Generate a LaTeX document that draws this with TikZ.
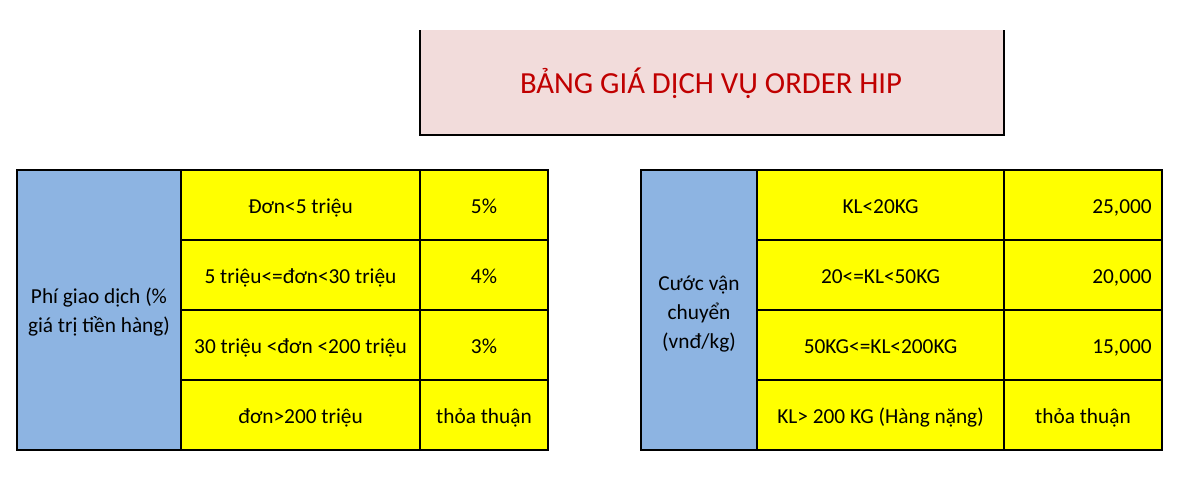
\documentclass[tikz,border=0pt]{standalone}
\usepackage{fontspec}
\setmainfont{Carlito}
\definecolor{cellblue}{HTML}{8DB4E2}
\definecolor{cellyellow}{HTML}{FFFF00}
\definecolor{titlepink}{HTML}{F2DCDB}
\definecolor{titlered}{HTML}{C00000}
\begin{document}
\begin{tikzpicture}[x=0.75pt,y=-0.75pt,
  grid/.style={line width=1.1pt},
  txt/.style={font=\fontsize{16}{21}\selectfont,inner sep=0pt,anchor=base}]
\useasboundingbox (0,0) rectangle (1198,479);
% title
\fill[titlepink] (420,30) rectangle (1004,135);
\draw[grid,line width=0.9pt] (420,30) -- (420,135) -- (1004,135) -- (1004,30);
\node[txt,text=titlered,font=\fontsize{23}{28}\selectfont] (title) at (711,93) {BẢNG GIÁ DỊCH VỤ ORDER HIP};
% left table
\fill[cellyellow] (181,170) rectangle (548,450);
\fill[cellblue] (17,170) rectangle (181,450);
\draw[grid] (17,170) rectangle (548,450);
\draw[grid] (181,170) -- (181,450) (420,170) -- (420,450);
\foreach \y in {240,310,380} \draw[grid] (181,\y) -- (548,\y);
\node[txt] (L0a) at (99,303) {Phí giao dịch (\%};
\node[txt] (L0b) at (99,332) {giá trị tiền hàng)};
\node[txt] (L1) at (300.5,213) {Đơn<5 triệu};
\node[txt] (L2) at (300.5,283) {5 triệu<=đơn<30 triệu};
\node[txt] (L3) at (300.5,353) {30 triệu <đơn <200 triệu};
\node[txt] (L4) at (300.5,423) {đơn>200 triệu};
\node[txt] (V1) at (484,213) {5\%};
\node[txt] (V2) at (484,283) {4\%};
\node[txt] (V3) at (484,353) {3\%};
\node[txt] (V4) at (484,423) {thỏa thuận};
% right table
\fill[cellyellow] (757,170) rectangle (1162,450);
\fill[cellblue] (641,170) rectangle (757,450);
\draw[grid] (641,170) rectangle (1162,450);
\draw[grid] (757,170) -- (757,450) (1004,170) -- (1004,450);
\foreach \y in {240,310,380} \draw[grid] (757,\y) -- (1162,\y);
\node[txt] (R0a) at (699,290) {Cước vận};
\node[txt] (R0b) at (699,319) {chuyển};
\node[txt] (R0c) at (699,348) {(vnđ/kg)};
\node[txt] (R1) at (880.5,213) {KL<20KG};
\node[txt] (R2) at (880.5,283) {20<=KL<50KG};
\node[txt] (R3) at (880.5,353) {50KG<=KL<200KG};
\node[txt] (R4) at (880.5,423) {KL> 200 KG (Hàng nặng)};
\node[txt,anchor=base east] (W1) at (1152,213) {25,000};
\node[txt,anchor=base east] (W2) at (1152,283) {20,000};
\node[txt,anchor=base east] (W3) at (1152,353) {15,000};
\node[txt] (W4) at (1083,423) {thỏa thuận};
\end{tikzpicture}
\end{document}
